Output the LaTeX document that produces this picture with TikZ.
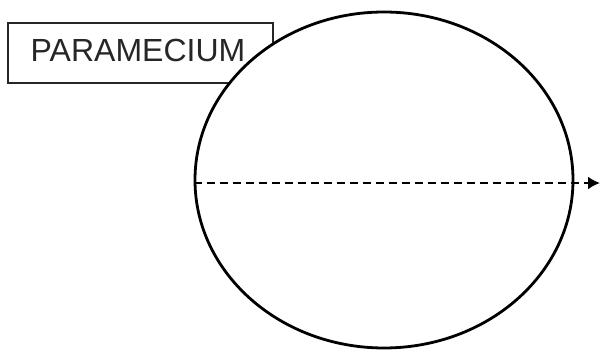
\documentclass[tikz,border=0pt]{standalone}
\usepackage{fontspec}
\setmainfont{Liberation Sans}
\usetikzlibrary{arrows.meta}
\tikzset{
  labelbox/.style={draw=black!85, line width=1.5pt, minimum width=265pt, minimum height=60pt, inner sep=0pt},
  labeltext/.style={inner sep=0pt, font=\fontsize{32}{36}\selectfont, text=black!85},
  cell/.style={draw=black, line width=2.8pt, fill=white, ellipse, minimum width=378pt, minimum height=336pt, inner sep=0pt},
  axisline/.style={draw=black, line width=2pt, dash pattern=on 8pt off 5pt, -{Latex[length=12pt,width=13pt]}}
}
\usetikzlibrary{shapes.geometric}
\begin{document}
\begin{tikzpicture}[x=1pt,y=1pt]
\useasboundingbox (0,0) rectangle (600,350);
\node[labelbox] (box) at (140.5,297) {};
\node[cell] (cell) at (384,170) {};
\node[labeltext] (label) at (138,300) {PARAMECIUM};
\coordinate (tip) at (600,167);
\draw[axisline] (cell.west |- 0,167) -- (tip);
\end{tikzpicture}
\end{document}
